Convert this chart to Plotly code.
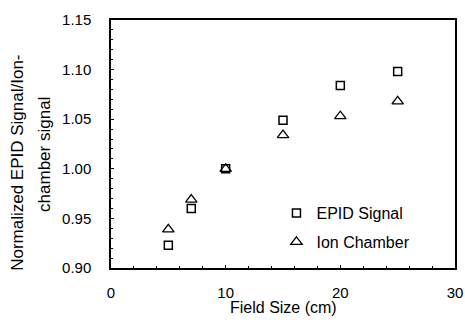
import plotly.graph_objects as go

field_size = [5, 7, 10, 15, 20, 25]
epid_signal = [0.923, 0.960, 1.000, 1.049, 1.084, 1.098]
ion_chamber = [0.939, 0.969, 1.000, 1.034, 1.053, 1.068]

x_ticks = [0, 10, 20, 30]
y_ticks = [0.90, 0.95, 1.00, 1.05, 1.10, 1.15]

y_title_lines = ["Normalized EPID Signal/Ion-", "chamber signal"]
x_title = "Field Size (cm)"

font = "Liberation Sans, Arial, sans-serif"

fig = go.Figure()
fig.add_trace(go.Scatter(
    x=field_size, y=epid_signal, mode="markers", name="EPID Signal", legendgroup="a",
    marker=dict(symbol="square-open", size=8, color="black", line=dict(width=1.5, color="black")),
))
fig.add_trace(go.Scatter(
    x=field_size, y=ion_chamber, mode="markers", name="Ion Chamber", legendgroup="b",
    marker=dict(symbol="triangle-up-open", size=10, color="black", line=dict(width=1.3, color="black")),
))

fig.update_layout(
    width=465, height=323,
    margin=dict(l=111, r=10, t=20, b=55),
    paper_bgcolor="white", plot_bgcolor="white",
    font=dict(family=font, size=15, color="black"),
    showlegend=True,
    legend=dict(x=0.481, y=0.29, xanchor="left", yanchor="top",
                bgcolor="rgba(0,0,0,0)", font=dict(size=16),
                itemwidth=30, tracegroupgap=5, traceorder="grouped"),
    xaxis=dict(
        range=[0, 30], tickvals=x_ticks, ticktext=[str(v) for v in x_ticks],
        showline=True, linecolor="black", linewidth=1.5, mirror=True,
        showgrid=False, zeroline=False, automargin=False,
        ticks="inside", ticklen=3, tickcolor="black",
        ticklabelstandoff=10,
        minor=dict(ticks="inside", ticklen=2, dtick=2, tickcolor="black"),
        tickfont=dict(size=15),
    ),
    yaxis=dict(
        range=[0.90, 1.15], tickvals=y_ticks, ticktext=[f"{v:.2f}" for v in y_ticks],
        showline=True, linecolor="black", linewidth=1.5, mirror=True,
        showgrid=False, zeroline=False, automargin=False,
        ticks="inside", ticklen=3, tickcolor="black",
        ticklabelstandoff=15,
        minor=dict(ticks="inside", ticklen=2, dtick=0.01, tickcolor="black"),
        tickfont=dict(size=15),
    ),
)

for line, shift, ypos in zip(y_title_lines, [-93, -66], [0.424, 0.456]):
    fig.add_annotation(
        text=line, xref="paper", yref="paper", x=0, y=ypos,
        xanchor="center", yanchor="middle", xshift=shift,
        textangle=-90, showarrow=False, font=dict(size=17, family=font),
    )

fig.add_annotation(
    text=x_title, xref="paper", yref="paper", x=0.5, y=0,
    xanchor="center", yanchor="middle", yshift=-39,
    showarrow=False, font=dict(size=16, family=font),
)

fig.write_html("out.html")
